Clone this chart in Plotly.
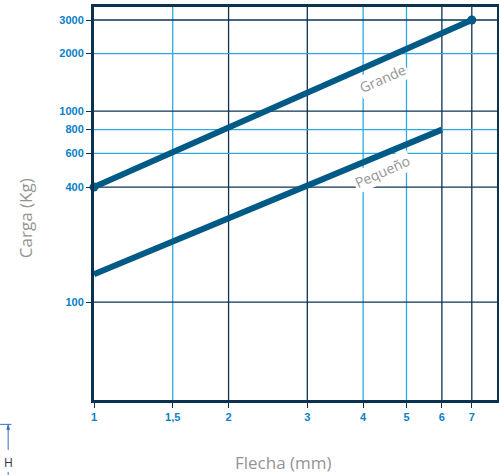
import numpy as np
import plotly.graph_objects as go

# Data (log-log axes)
grande_x = [1, 7]
grande_y = [400, 3000]
pequeno_x = [1, 6]
pequeno_y = [140, 800]

x_ticks = [1, 1.5, 2, 3, 4, 5, 6, 7]
x_tick_text = ["1", "1,5", "2", "3", "4", "5", "6", "7"]
y_ticks = [100, 400, 600, 800, 1000, 2000, 3000]

# Grid lines: light ones and dark ones
x_grid_light = [1.5, 4, 5]
x_grid_dark = [2, 3, 6, 7]
y_grid_light = [600, 800, 2000]
y_grid_dark = [100, 400, 1000, 3000]

labels = ["Grande", "Pequeño"]
label_x = [4.41, 4.41]
label_y = [1490, 485]

x_range = [1, 7.97]
y_range = [30.7, 3509]

LINE = "#005a86"
DARK = "#0b3350"
LIGHT = "#29abe2"
TICK = "#0a80c6"
GRAY = "#949494"
HBLUE = "#3a6cc0"

fig = go.Figure()

# grid lines as shapes (data coordinates)
shapes = []
for v, c in [(v, LIGHT) for v in x_grid_light] + [(v, DARK) for v in x_grid_dark]:
    shapes.append(dict(type="line", xref="x", yref="paper", x0=v, x1=v, y0=0, y1=1,
                       line=dict(color=c, width=1.3), layer="below"))
for v, c in [(v, LIGHT) for v in y_grid_light] + [(v, DARK) for v in y_grid_dark]:
    shapes.append(dict(type="line", xref="paper", yref="y", x0=0, x1=1, y0=v, y1=v,
                       line=dict(color=c, width=1.3), layer="below"))

# stray "H" dimension mark at bottom-left
shapes.append(dict(type="line", xref="paper", yref="paper", x0=-0.213, x1=-0.213,
                   y0=-0.065, y1=-0.127, line=dict(color=HBLUE, width=1)))
shapes.append(dict(type="line", xref="paper", yref="paper", x0=-0.213, x1=-0.213,
                   y0=-0.183, y1=-0.2, line=dict(color=HBLUE, width=1)))
shapes.append(dict(type="line", xref="paper", yref="paper", x0=-0.233, x1=-0.205,
                   y0=-0.062, y1=-0.062, line=dict(color=HBLUE, width=1)))
shapes.append(dict(type="path", xref="paper", yref="paper",
                   path="M -0.216,-0.075 L -0.210,-0.075 L -0.213,-0.064 Z",
                   fillcolor=HBLUE, line=dict(color=HBLUE, width=1)))

fig.add_trace(go.Scatter(
    x=grande_x, y=grande_y, mode="lines+markers", name="Grande",
    line=dict(color=LINE, width=6), marker=dict(color=LINE, size=9),
    cliponaxis=False, showlegend=False, hoverinfo="skip",
))
fig.add_trace(go.Scatter(
    x=pequeno_x, y=pequeno_y, mode="lines", name="Pequeño",
    line=dict(color=LINE, width=6), cliponaxis=False, showlegend=False, hoverinfo="skip",
))

annotations = []
for t, lx, ly in zip(labels, label_x, label_y):
    annotations.append(dict(
        x=np.log10(lx), y=np.log10(ly), xref="x", yref="y", text=t, showarrow=False,
        textangle=-24, bgcolor="white", borderpad=1,
        font=dict(family="Open Sans", size=14, color=GRAY),
    ))

annotations.append(dict(x=0.471, y=-0.16, xref="paper", yref="paper", text="Flecha (mm)",
                        xanchor="center", yanchor="middle", showarrow=False,
                        font=dict(family="Open Sans", size=17, color=GRAY)))
annotations.append(dict(x=-0.171, y=0.463, xref="paper", yref="paper", text="Carga (Kg)",
                        xanchor="center", yanchor="middle", showarrow=False, textangle=-90,
                        font=dict(family="Open Sans", size=17, color=GRAY)))
annotations.append(dict(x=-0.211, y=-0.158, xref="paper", yref="paper", text="H",
                        xanchor="center", yanchor="middle", showarrow=False,
                        font=dict(family="Open Sans", size=12, color="#333")))

fig.update_layout(
    width=499, height=475,
    margin=dict(l=94, r=2, t=7, b=75, autoexpand=False),
    paper_bgcolor="white", plot_bgcolor="white",
    shapes=shapes, annotations=annotations,
    xaxis=dict(
        type="log", range=[np.log10(x_range[0]), np.log10(x_range[1])],
        tickvals=x_ticks, ticktext=x_tick_text, showgrid=False, zeroline=False,
        showline=True, linecolor=DARK, linewidth=3, mirror=True,
        ticks="outside", ticklen=5, tickcolor=DARK, tickwidth=1,
        tickfont=dict(family="Liberation Sans", size=11, color=TICK, weight=600),
    ),
    yaxis=dict(
        type="log", range=[np.log10(y_range[0]), np.log10(y_range[1])],
        tickvals=y_ticks, ticktext=[str(v) for v in y_ticks], showgrid=False, zeroline=False,
        showline=True, linecolor=DARK, linewidth=3, mirror=True,
        ticks="outside", ticklen=5, tickcolor=DARK, tickwidth=1,
        tickfont=dict(family="Liberation Sans", size=11, color=TICK, weight=600),
    ),
)

# page body has a default 8px margin; remove it so the chart sits at 0,0
fig.write_html(
    "out.html",
    config={"displayModeBar": False},
    post_script="document.body.style.margin='0';document.body.style.overflow='hidden';",
)
